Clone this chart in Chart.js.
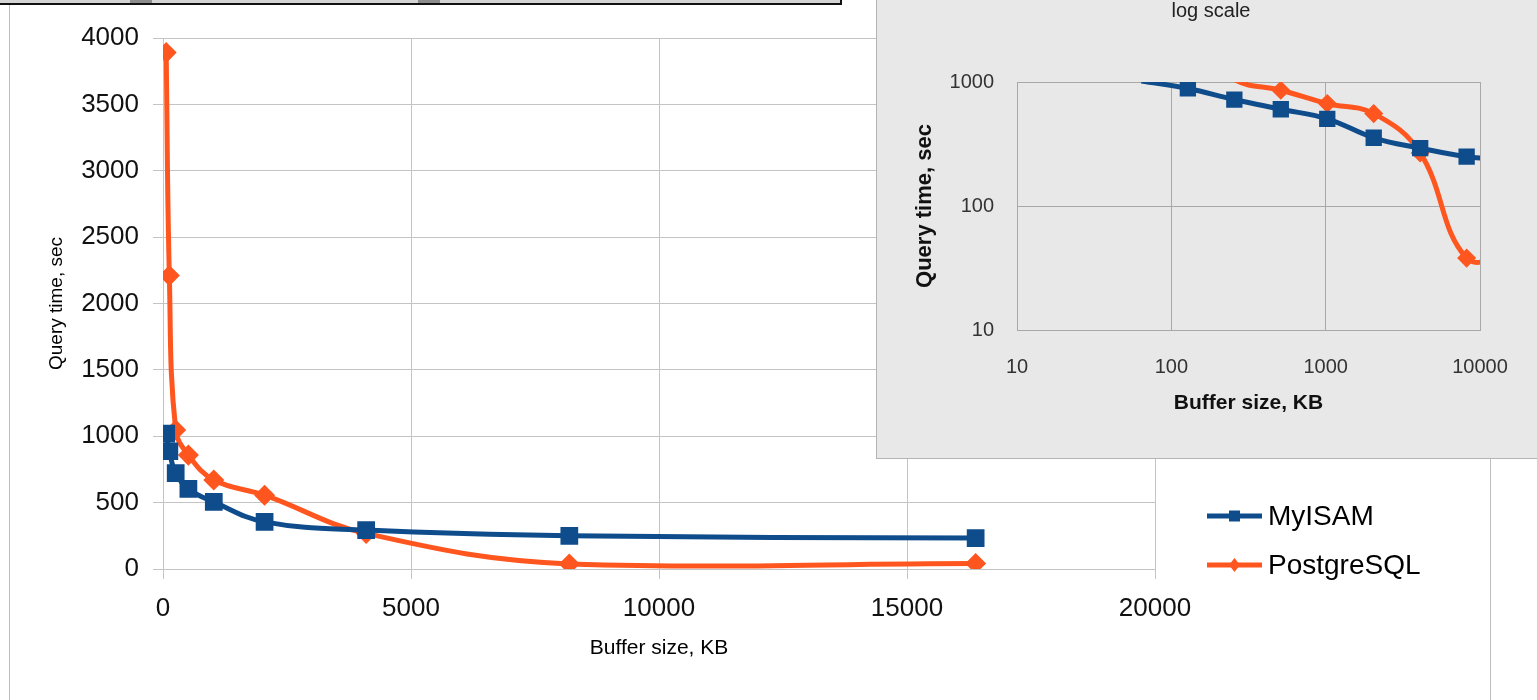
<!DOCTYPE html>
<html>
<head>
<meta charset="utf-8">
<script src="https://cdn.jsdelivr.net/npm/chart.js@4.4.1/dist/chart.umd.min.js"></script>
<style>
    body { margin: 0; width: 1537px; height: 700px; overflow: hidden; background: #fff; position: relative; }
    #frame { position: absolute; left: 9px; top: -2px; width: 1480px; height: 710px; border-left: 1px solid #bdbdbd; border-right: 1px solid #bdbdbd; }
    #main { position: absolute; left: 0; top: 0; }
    #topbar { position: absolute; left: -2px; top: -20px; width: 842px; height: 23px; background: #d4d4d4; border-right: 2px solid #111; border-bottom: 2px solid #111; }
    .thumb { position: absolute; top: 20px; height: 3px; width: 22px; background: #8c8c8c; }
    #inset { position: absolute; left: 876px; top: -1px; width: 661px; height: 459px; background: #e8e8e8; border-left: 1px solid #b4b4b4; border-bottom: 1px solid #b4b4b4; }
    #small { position: absolute; left: 0; top: 0; }
</style>
</head>
<body>
<div id="frame"></div>
<canvas id="main" width="1537" height="700"></canvas>
<div id="topbar"><div class="thumb" style="left:132px"></div><div class="thumb" style="left:420px"></div></div>
<div id="inset"><canvas id="small" width="660" height="459"></canvas></div>
<script>
// buffer sizes (KB) and query times (sec)
const bufferKB = [64, 128, 256, 512, 1024, 2048, 4096, 8192, 16384];
const myisam = [1020, 887, 722, 603, 505, 355, 293, 250, 233];
const postgres = [3890, 2210, 1047, 858, 670, 556, 268, 38, 42];

const seriesNames = ['MyISAM', 'PostgreSQL'];
const colors = ['#0e4c8c', '#ff5620'];

const mainXTicks = [0, 5000, 10000, 15000, 20000];
const mainYTicks = [0, 500, 1000, 1500, 2000, 2500, 3000, 3500, 4000];
const insetXTicks = [10, 100, 1000, 10000];
const insetYTicks = [10, 100, 1000];

const font = '"Liberation Sans", Arial, sans-serif';

function punkte(vals) {
    return bufferKB.map((x, i) => ({ x: x, y: vals[i] }));
}

// yMax: markers above it are not drawn (Excel hides them outside the plot)
function seturi(rMain, yMax) {
    const raza = (r) => (ctx) => (ctx.raw && ctx.raw.y > yMax ? 0 : r);
    return [
        {
            label: seriesNames[0],
            data: punkte(myisam),
            borderColor: colors[0],
            backgroundColor: colors[0],
            borderWidth: 5,
            pointStyle: 'rect',
            pointRadius: raza(rMain[0]),
            tension: 0.4
        },
        {
            label: seriesNames[1],
            data: punkte(postgres),
            borderColor: colors[1],
            backgroundColor: colors[1],
            borderWidth: 5,
            pointStyle: 'rectRot',
            pointRadius: raza(rMain[1]),
            tension: 0.4
        }
    ];
}

// Excel-like legend: line with marker in the middle
const legendaPlugin = {
    id: 'legenda',
    afterDraw: (chart) => {
        const ctx = chart.ctx;
        chart.data.datasets.forEach((ds, i) => {
            const y = 516 + i * 49;
            ctx.save();
            ctx.strokeStyle = ds.borderColor;
            ctx.lineWidth = 5;
            ctx.beginPath();
            ctx.moveTo(1207, y);
            ctx.lineTo(1262, y);
            ctx.stroke();
            ctx.fillStyle = ds.borderColor;
            ctx.beginPath();
            if (ds.pointStyle === 'rect') {
                ctx.rect(1229, y - 5.5, 11, 11);
            } else {
                ctx.moveTo(1234.5, y - 7);
                ctx.lineTo(1240, y);
                ctx.lineTo(1234.5, y + 7);
                ctx.lineTo(1229, y);
                ctx.closePath();
            }
            ctx.fill();
            ctx.fillStyle = '#000';
            ctx.font = '28px ' + font;
            ctx.textBaseline = 'middle';
            ctx.fillText(ds.label, 1268, y + 1);
            ctx.restore();
        });
    }
};

// inset heading sits a bit right of the canvas middle
const titluPlugin = {
    id: 'titlu',
    afterDraw: (chart) => {
        const ctx = chart.ctx;
        ctx.save();
        ctx.fillStyle = '#222';
        ctx.font = '20px ' + font;
        ctx.textAlign = 'center';
        ctx.textBaseline = 'middle';
        ctx.fillText('log scale', 334, 12);
        ctx.restore();
    }
};

new Chart(document.getElementById('main'), {
    type: 'line',
    data: { datasets: seturi([9, 7], 4000) },
    options: {
        responsive: false,
        animation: false,
        layout: { padding: { left: 10, top: 38, right: 382, bottom: 10 } },
        plugins: { legend: { display: false }, tooltip: { enabled: false } },
        scales: {
            x: {
                type: 'linear',
                min: 0,
                max: 20000,
                afterBuildTicks: (s) => { s.ticks = mainXTicks.map(v => ({ value: v })); },
                afterFit: (s) => { s.height = 121; },
                ticks: { callback: (v) => String(v), font: { size: 26, family: font }, color: '#111', padding: 14, maxRotation: 0 },
                grid: { color: '#c4c4c4', tickLength: 10 },
                border: { color: '#c4c4c4' },
                title: { display: true, text: 'Buffer size, KB', font: { size: 21, family: font }, color: '#000', padding: { top: 0, bottom: 29 } }
            },
            y: {
                min: 0,
                max: 4000,
                afterBuildTicks: (s) => { s.ticks = mainYTicks.map(v => ({ value: v })); },
                afterFit: (s) => { s.width = 153; },
                ticks: { callback: (v) => String(v), font: { size: 26, family: font }, color: '#111', padding: 14 },
                grid: { color: '#c4c4c4', tickLength: 10 },
                border: { color: '#c4c4c4' },
                title: { display: true, text: 'Query time, sec', font: { size: 19, family: font }, color: '#000', padding: { top: 35, bottom: 0 } }
            }
        }
    },
    plugins: [legendaPlugin]
});

// inset: same data on log axes
new Chart(document.getElementById('small'), {
    type: 'line',
    data: { datasets: seturi([8, 6], 1000) },
    options: {
        responsive: false,
        animation: false,
        layout: { padding: { left: 0, top: 83, right: 57, bottom: 0 } },
        plugins: { legend: { display: false }, tooltip: { enabled: false } },
        scales: {
            x: {
                type: 'logarithmic',
                min: 10,
                max: 10000,
                afterBuildTicks: (s) => { s.ticks = insetXTicks.map(v => ({ value: v })); },
                afterFit: (s) => { s.height = 128; },
                ticks: { callback: (v) => String(v), font: { size: 20, family: font }, color: '#333', padding: 25, maxRotation: 0 },
                grid: { color: '#a8a8a8', drawTicks: false },
                border: { color: '#a8a8a8' },
                title: { display: true, text: 'Buffer size, KB', font: { size: 21, family: font, weight: 'bold' }, color: '#111', padding: { top: 0, bottom: 42 } }
            },
            y: {
                type: 'logarithmic',
                min: 10,
                max: 1000,
                afterBuildTicks: (s) => { s.ticks = insetYTicks.map(v => ({ value: v })); },
                afterFit: (s) => { s.width = 140; },
                ticks: { callback: (v) => String(v), font: { size: 20, family: font }, color: '#333', padding: 23 },
                grid: { color: '#a8a8a8', drawTicks: false },
                border: { color: '#a8a8a8' },
                title: { display: true, text: 'Query time, sec', font: { size: 22, family: font, weight: 'bold' }, color: '#111', padding: { top: 35, bottom: 0 } }
            }
        }
    },
    plugins: [titluPlugin]
});
</script>
</body>
</html>
